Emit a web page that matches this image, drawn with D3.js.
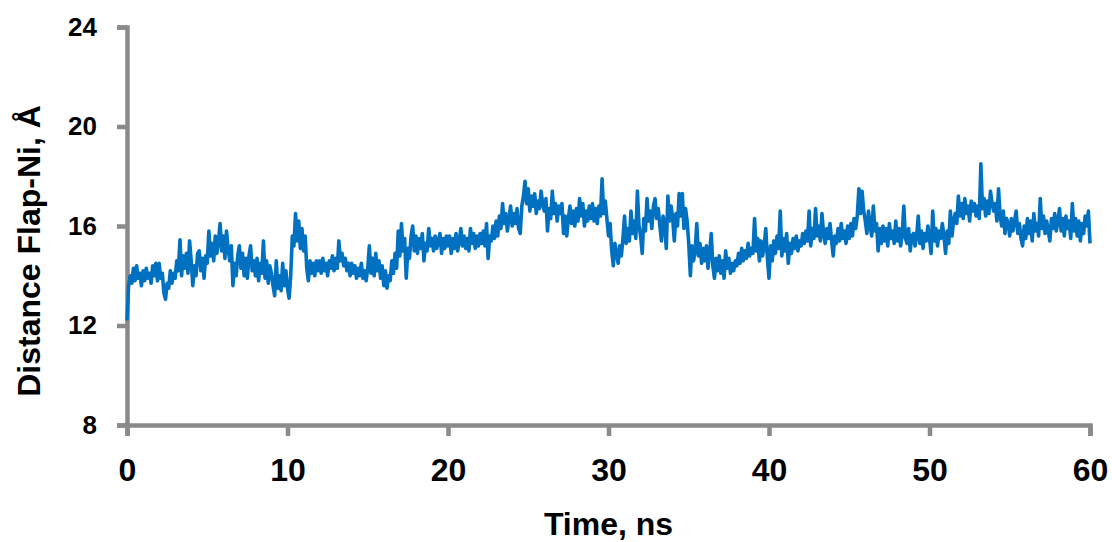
<!DOCTYPE html>
<meta charset="utf-8">
<style>
    body {
        margin: 0;
        background: #fff;
    }

    .axis path,
    .axis line {
        stroke: #8a8a8a;
        stroke-width: 4.5;
    }

    .axis text {
        font-family: "Liberation Sans", Arial, sans-serif;
        font-weight: bold;
        fill: #000;
    }

    .title {
        font-family: "Liberation Sans", Arial, sans-serif;
        font-weight: bold;
        font-size: 32px;
        fill: #000;
    }
</style>
<svg id="canvas" width="1112" height="542"></svg>
<script src="https://d3js.org/d3.v7.min.js"></script>
<script>

    // distance Flap-Ni (Å), one value every 0.1 ns
    var dist0to10 = [
        12.2, 13.6, 14.0, 13.7, 14.3, 13.8, 14.4, 13.9, 14.1, 13.6,
        14.2, 13.8, 14.3, 13.9, 14.1, 13.7, 14.4, 14.0, 14.5, 13.8,
        14.5, 13.9, 14.1, 13.3, 13.05, 13.7, 13.5, 14.2, 13.7, 14.1,
        13.9, 14.6, 14.2, 15.45, 14.0, 14.8, 14.3, 14.9, 14.1, 15.4,
        14.6, 13.6, 14.4, 14.0, 14.9, 15.0, 14.2, 14.7, 13.9, 14.8,
        14.5, 15.8, 14.8, 15.3, 14.6, 15.6, 14.9, 15.4, 16.1, 15.0,
        15.6, 14.7, 15.8, 15.1, 14.6, 15.2, 13.6, 14.5, 14.0, 14.8,
        15.2, 14.3, 14.9, 14.0, 14.7, 13.9, 14.8, 15.2, 14.2, 14.6,
        14.0, 14.7, 13.8, 14.5, 14.1, 15.4, 13.9, 14.6, 13.7, 14.4,
        14.1, 13.6, 13.2, 14.6, 13.5, 14.0, 13.4, 14.5, 13.6, 14.2
    ];
    var dist10to20 = [
        13.5, 13.1, 14.0, 15.6, 15.2, 16.5, 15.4, 16.2, 15.1, 15.9,
        15.0, 15.6, 14.3, 13.8, 14.6, 14.1, 14.5, 14.0, 14.6, 14.2,
        14.6, 14.1, 14.7, 14.2, 14.5, 14.0, 14.6, 14.3, 14.8, 14.2,
        14.7, 14.3, 15.4, 14.6, 14.9, 14.4, 14.7, 14.2, 14.5, 14.0,
        14.5, 14.1, 14.4, 13.9, 14.3, 14.0, 14.5, 13.9, 14.2, 13.8,
        14.3, 15.2, 14.1, 14.7, 14.0, 14.9, 14.2, 14.6, 13.9, 14.4,
        13.6, 14.2, 13.5, 14.0, 13.8, 14.6, 14.1, 14.9, 14.3, 15.8,
        14.8, 16.1, 15.0, 15.5, 13.9, 15.1, 14.7, 15.6, 16.0, 15.0,
        15.6, 14.9, 15.5, 15.1, 15.7, 14.6, 15.3, 15.0, 15.9, 15.2,
        15.5, 15.0, 15.6, 15.1, 15.4, 15.7, 14.9, 15.5, 15.1, 15.6
    ];
    var dist20to30 = [
        15.2, 15.6, 14.9, 15.5, 15.1, 15.7, 15.0, 15.4, 15.9, 15.2,
        15.6, 15.1, 15.5, 15.0, 15.9, 15.3, 15.7, 15.1, 15.6, 15.2,
        15.7, 15.3, 15.8, 15.2, 16.1, 14.7, 15.6, 15.4, 16.0, 15.5,
        16.2, 15.6, 16.4, 15.9, 16.9, 16.1, 16.5, 15.8, 16.3, 16.8,
        16.0, 16.5, 16.1, 16.7, 15.9, 15.7, 16.8, 17.2, 17.8, 16.9,
        17.5, 16.6, 17.2, 16.8, 17.3, 16.5, 17.0, 16.7, 17.4, 16.9,
        16.6, 17.1, 15.8, 16.7, 16.3, 17.4, 16.5, 16.9, 16.2, 16.8,
        16.5, 16.9, 15.7, 16.4, 15.6, 16.3, 16.8, 16.1, 16.6, 16.0,
        16.7, 16.2, 17.1, 16.4, 16.9, 16.0, 16.6, 16.2, 16.8, 16.3,
        16.9, 16.2, 16.7, 16.1, 16.8, 16.4, 17.9, 16.5, 17.0, 16.3
    ];
    var dist30to40 = [
        15.6, 16.1, 15.0, 14.4, 15.3, 14.9, 14.5, 15.2, 14.8, 15.5,
        16.4, 15.3, 15.9, 15.4, 16.6, 15.7, 16.2, 15.5, 17.4, 16.0,
        15.6, 14.9, 16.3, 15.8, 17.1, 16.2, 16.6, 15.9, 16.8, 17.1,
        16.3, 16.7, 16.0, 15.4, 16.4, 16.1, 15.1, 17.2, 16.2, 16.8,
        16.3, 15.4, 16.5, 16.0, 17.3, 16.4, 17.3, 15.9, 16.7, 16.2,
        15.3, 14.0, 15.2, 14.6, 15.0, 16.1, 14.8, 15.3, 14.5, 15.1,
        14.6, 15.2, 14.3, 14.9, 15.7, 14.4, 13.9, 14.7, 14.2, 14.8,
        14.1, 14.6, 13.9, 15.0, 14.3, 14.7, 14.1, 14.5, 14.2, 14.6,
        14.4, 14.9, 14.5, 15.1, 14.6, 15.0, 14.7, 15.3, 14.8, 15.1,
        14.9, 16.3, 15.0, 15.5, 14.6, 15.4, 14.8, 15.2, 15.9, 14.7
    ];
    var dist40to50 = [
        13.9, 15.2, 14.6, 15.4, 14.9, 15.6, 15.1, 16.6, 14.8, 15.5,
        15.0, 15.7, 14.5, 15.3, 14.9, 15.5, 15.1, 15.6, 15.0, 15.4,
        15.2, 15.7, 15.3, 15.8, 15.4, 16.6, 15.2, 15.9, 15.5, 16.7,
        15.6, 16.0, 15.4, 16.5, 15.7, 15.3, 15.9, 15.5, 16.1, 15.4,
        14.8, 15.6, 15.3, 15.9, 15.4, 16.1, 15.5, 15.8, 15.3, 16.0,
        15.5, 16.1, 15.6, 16.3, 15.9, 16.4, 17.5, 16.5, 17.4, 16.6,
        16.2, 15.7, 16.6, 16.0, 15.6, 16.8, 15.8, 16.1, 15.0, 15.9,
        15.3, 16.0, 15.4, 15.9, 15.2, 16.1, 15.5, 15.8, 15.3, 16.2,
        15.4, 15.9, 15.2, 15.7, 16.8, 15.5, 15.3, 15.9, 15.0, 15.6,
        15.7, 15.2, 15.6, 16.4, 15.3, 15.8, 15.1, 15.7, 15.4, 16.0
    ];
    var dist50to60 = [
        15.5, 14.9, 16.6, 15.4, 15.9, 15.2, 15.8, 15.5, 16.1, 15.6,
        14.9, 15.8, 15.3, 16.6, 15.6, 16.2, 16.5, 16.1, 17.2, 16.4,
        16.9, 16.3, 17.1, 16.5, 16.8, 16.2, 17.0, 16.6, 16.9, 16.4,
        16.8, 16.3, 18.5, 16.7, 17.1, 16.4, 17.0, 16.5, 17.4, 16.9,
        16.6, 16.9, 16.2, 17.5, 16.4, 16.0, 16.6, 15.7, 16.3, 16.1,
        15.6, 16.3, 15.8, 16.2, 16.6, 15.7, 16.1, 15.5, 15.2, 16.0,
        15.5, 16.3, 15.7, 16.2, 15.4, 16.5, 15.8, 16.1, 15.6, 17.1,
        15.9, 16.4, 15.7, 16.2, 15.8, 15.4, 16.3, 15.9, 16.5, 15.8,
        16.2, 16.7, 15.8, 16.3, 15.6, 16.4, 15.9, 16.2, 15.5, 16.9,
        15.8, 16.3, 15.6, 16.2, 15.4, 16.1, 15.7, 16.4, 16.0, 16.6,
        15.3
    ];
    var timeStep = 0.1; // ns between samples

    var xTicks = [0, 10, 20, 30, 40, 50, 60];
    var yTicks = [8, 12, 16, 20, 24];
    var xLabel = "Time, ns";
    var yLabel = "Distance Flap-Ni, Å";

    var svg = d3.select("#canvas"),
        width = +svg.attr("width"),
        height = +svg.attr("height");

    var margin = {top: 27, right: 22, bottom: 117, left: 127};

    var x = d3.scaleLinear().domain([0, 60]).range([margin.left, width - margin.right]);
    var y = d3.scaleLinear().domain([8, 24]).range([height - margin.bottom, margin.top]);

    var distance = [].concat(dist0to10, dist10to20, dist20to30, dist30to40, dist40to50, dist50to60);
    var series = distance.map(function(v, i) { return {t: i * timeStep, v: v}; });

    // axes
    svg.append("g")
        .attr("class", "axis")
        .attr("transform", "translate(0," + y(8) + ")")
        .call(d3.axisBottom(x).tickValues(xTicks).tickSize(11).tickPadding(22).tickFormat(d3.format("d")))
        .selectAll("text").style("font-size", "32px");

    svg.append("g")
        .attr("class", "axis")
        .attr("transform", "translate(" + x(0) + ",0)")
        .call(d3.axisLeft(y).tickValues(yTicks).tickSize(10).tickPadding(20).tickFormat(d3.format("d")))
        .selectAll("text").style("font-size", "26px");

    // trace
    var line = d3.line()
        .x(function(d) { return x(d.t); })
        .y(function(d) { return y(d.v); });

    svg.append("path")
        .datum(series)
        .attr("fill", "none")
        .attr("stroke", "#0070c0")
        .attr("stroke-width", 3.6)
        .attr("stroke-linejoin", "round")
        .attr("d", line);

    // titles
    svg.append("text")
        .attr("class", "title")
        .attr("x", (x(0) + x(60)) / 2)
        .attr("y", 535)
        .attr("text-anchor", "middle")
        .text(xLabel);

    svg.append("text")
        .attr("class", "title")
        .attr("transform", "translate(40,251) rotate(-90)")
        .attr("text-anchor", "middle")
        .text(yLabel);

</script>
